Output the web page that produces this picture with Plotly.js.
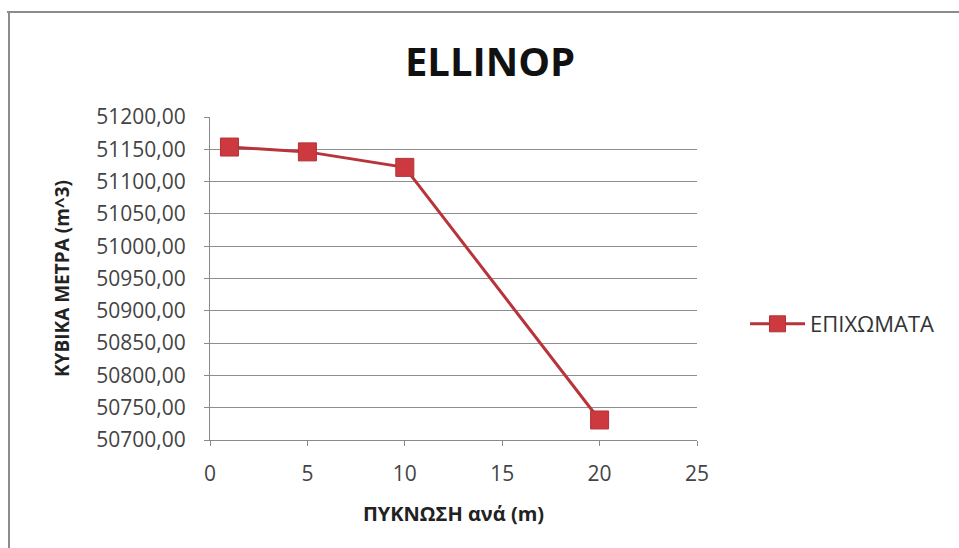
<!DOCTYPE html>
<html>
<head>
<meta charset="utf-8">
<script src="https://cdn.plot.ly/plotly-3.0.1.min.js"></script>
<style>
  html, body { margin: 0; padding: 0; background: #ffffff; }
  #chart { width: 959px; height: 548px; }
</style>
</head>
<body>
<div id="chart"></div>
<script>
// Fill volumes (m^3) against densification step (m)
const spacing = [1, 5, 10, 20];
const volumes = [51153.5, 51146, 51122, 50731];
const seriesName = 'ΕΠΙΧΩΜΑΤΑ';
const xTicks = [0, 5, 10, 15, 20, 25];
const yTicks = [50700, 50750, 50800, 50850, 50900, 50950, 51000, 51050, 51100, 51150, 51200];

const yTickText = yTicks.map(v => v.toFixed(2).replace('.', ','));

const W = 959, H = 548;
const M = { l: 210, r: 262, t: 117, b: 108 };
const pw = W - M.l - M.r, ph = H - M.t - M.b;
// convert pixel position to paper coords for the outer frame and legend
const px = x => (x - M.l) / pw;
const py = y => 1 - (y - M.t) / ph;

const trace = {
  x: spacing,
  y: volumes,
  name: seriesName,
  type: 'scatter',
  mode: 'lines+markers',
  line: { color: '#B8343A', width: 3 },
  marker: { symbol: 'square', size: 18, color: '#CC3A40', line: { color: '#B23238', width: 1 } }
};

const layout = {
  width: W, height: H,
  margin: M,
  paper_bgcolor: '#ffffff',
  plot_bgcolor: '#ffffff',
  font: { family: 'Open Sans, sans-serif', color: '#444' },
  title: {
    text: '<b>ELLINOP</b>',
    font: { family: 'Open Sans, sans-serif', size: 40, color: '#111' },
    x: 0.511, xanchor: 'center', y: 0.886, yanchor: 'middle'
  },
  showlegend: true,
  legend: {
    x: px(745), y: py(324), xanchor: 'left', yanchor: 'middle',
    font: { size: 22, color: '#333' },
    itemwidth: 55,
    bgcolor: 'rgba(0,0,0,0)'
  },
  xaxis: {
    range: [0, 25],
    tickvals: xTicks,
    ticktext: xTicks.map(String),
    showgrid: false,
    zeroline: false,
    showline: true, linecolor: '#8a8a8a', linewidth: 1,
    ticks: 'outside', ticklen: 5, tickcolor: '#8a8a8a',
    ticklabelstandoff: 10,
    tickfont: { size: 21, color: '#444' },
    title: { text: '<b>ΠΥΚΝΩΣΗ ανά (m)</b>', font: { size: 20, color: '#222' }, standoff: 20 }
  },
  yaxis: {
    range: [50700, 51200],
    tickvals: yTicks,
    ticktext: yTickText,
    showgrid: true, gridcolor: '#8e8e8e', gridwidth: 1,
    zeroline: false,
    showline: true, linecolor: '#8a8a8a', linewidth: 1,
    ticks: 'outside', ticklen: 5, tickcolor: '#8a8a8a',
    ticklabelstandoff: 14,
    tickfont: { size: 21, color: '#444' },
    title: { text: '<b>ΚΥΒΙΚΑ ΜΕΤΡΑ (m^3)</b>', font: { size: 19, color: '#222' }, standoff: 21 }
  },
  shapes: [
    // outer chart frame (top and left edges)
    { type: 'line', xref: 'paper', yref: 'paper', x0: px(7), x1: px(959), y0: py(12), y1: py(12),
      line: { color: '#8c8c8c', width: 2 } },
    { type: 'line', xref: 'paper', yref: 'paper', x0: px(9), x1: px(9), y0: py(12), y1: py(548),
      line: { color: '#8c8c8c', width: 2 } }
  ]
};

Plotly.newPlot('chart', [trace], layout, { displayModeBar: false, staticPlot: true });
</script>
</body>
</html>
